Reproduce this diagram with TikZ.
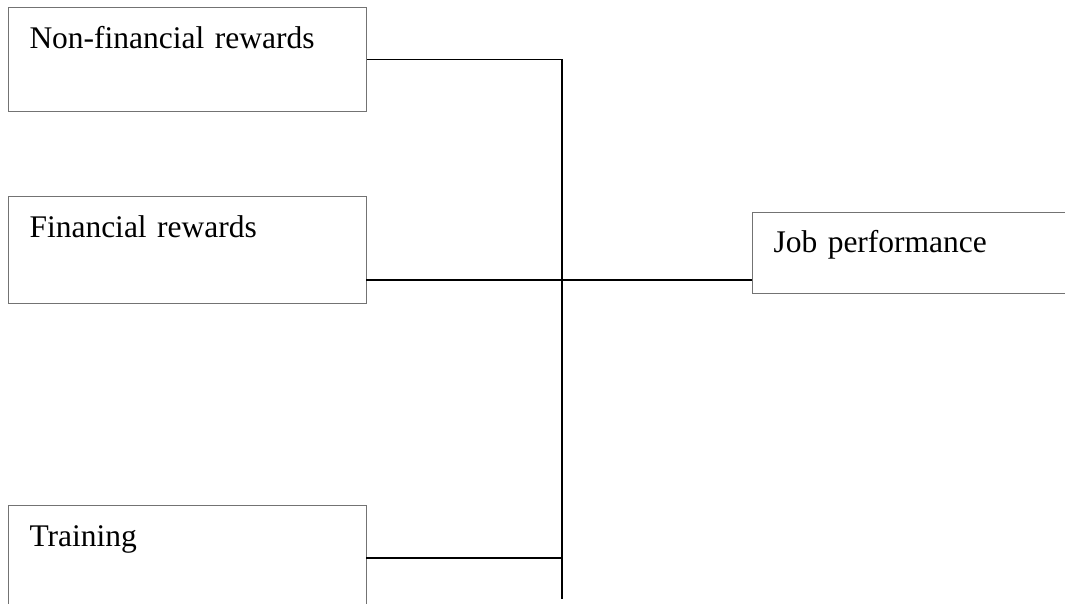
\documentclass[tikz,border=0pt]{standalone}
\usepackage{fontspec}
\setmainfont{Liberation Serif}
\usepackage{tikz}
\usetikzlibrary{positioning}

\begin{document}
\begin{tikzpicture}[
  x=1pt, y=-1pt,
  factor/.style={rectangle, draw=black!55, line width=1pt, anchor=north west,
    minimum width=358pt, text width=316pt, align=left, inner xsep=21pt, inner ysep=11pt,
    text height=30pt, font=\fontsize{31.5}{36}\selectfont},
  link/.style={draw=black, line width=1.6pt},
]
\useasboundingbox (0,0) rectangle (1065,603);
\clip (0,0) rectangle (1065,603);
\node[factor, text depth=52pt] (nonfin) at (8,7) {Non-financial rewards};
\node[factor, text depth=55pt, below=84pt of nonfin.south west, anchor=north west] (fin) {Financial rewards};
\node[factor, text depth=120pt, below=201pt of fin.south west, anchor=north west] (train) {Training};
\node[factor, text height=29pt, text depth=30pt, minimum width=340pt, text width=298pt] (job) at (752,212) {Job performance};
% bus
\coordinate (bustop) at (562,59);
\coordinate (busbot) at (562,599);
\coordinate (finout) at (366,280);
\coordinate (trainout) at (366,558);
\draw[link] (bustop) -- (busbot);
\draw[link] (nonfin.east) -- (nonfin.east -| bustop);
\draw[link] (finout) -- (finout -| job.west);
\draw[link] (trainout) -- (trainout -| bustop);
\end{tikzpicture}
\end{document}
